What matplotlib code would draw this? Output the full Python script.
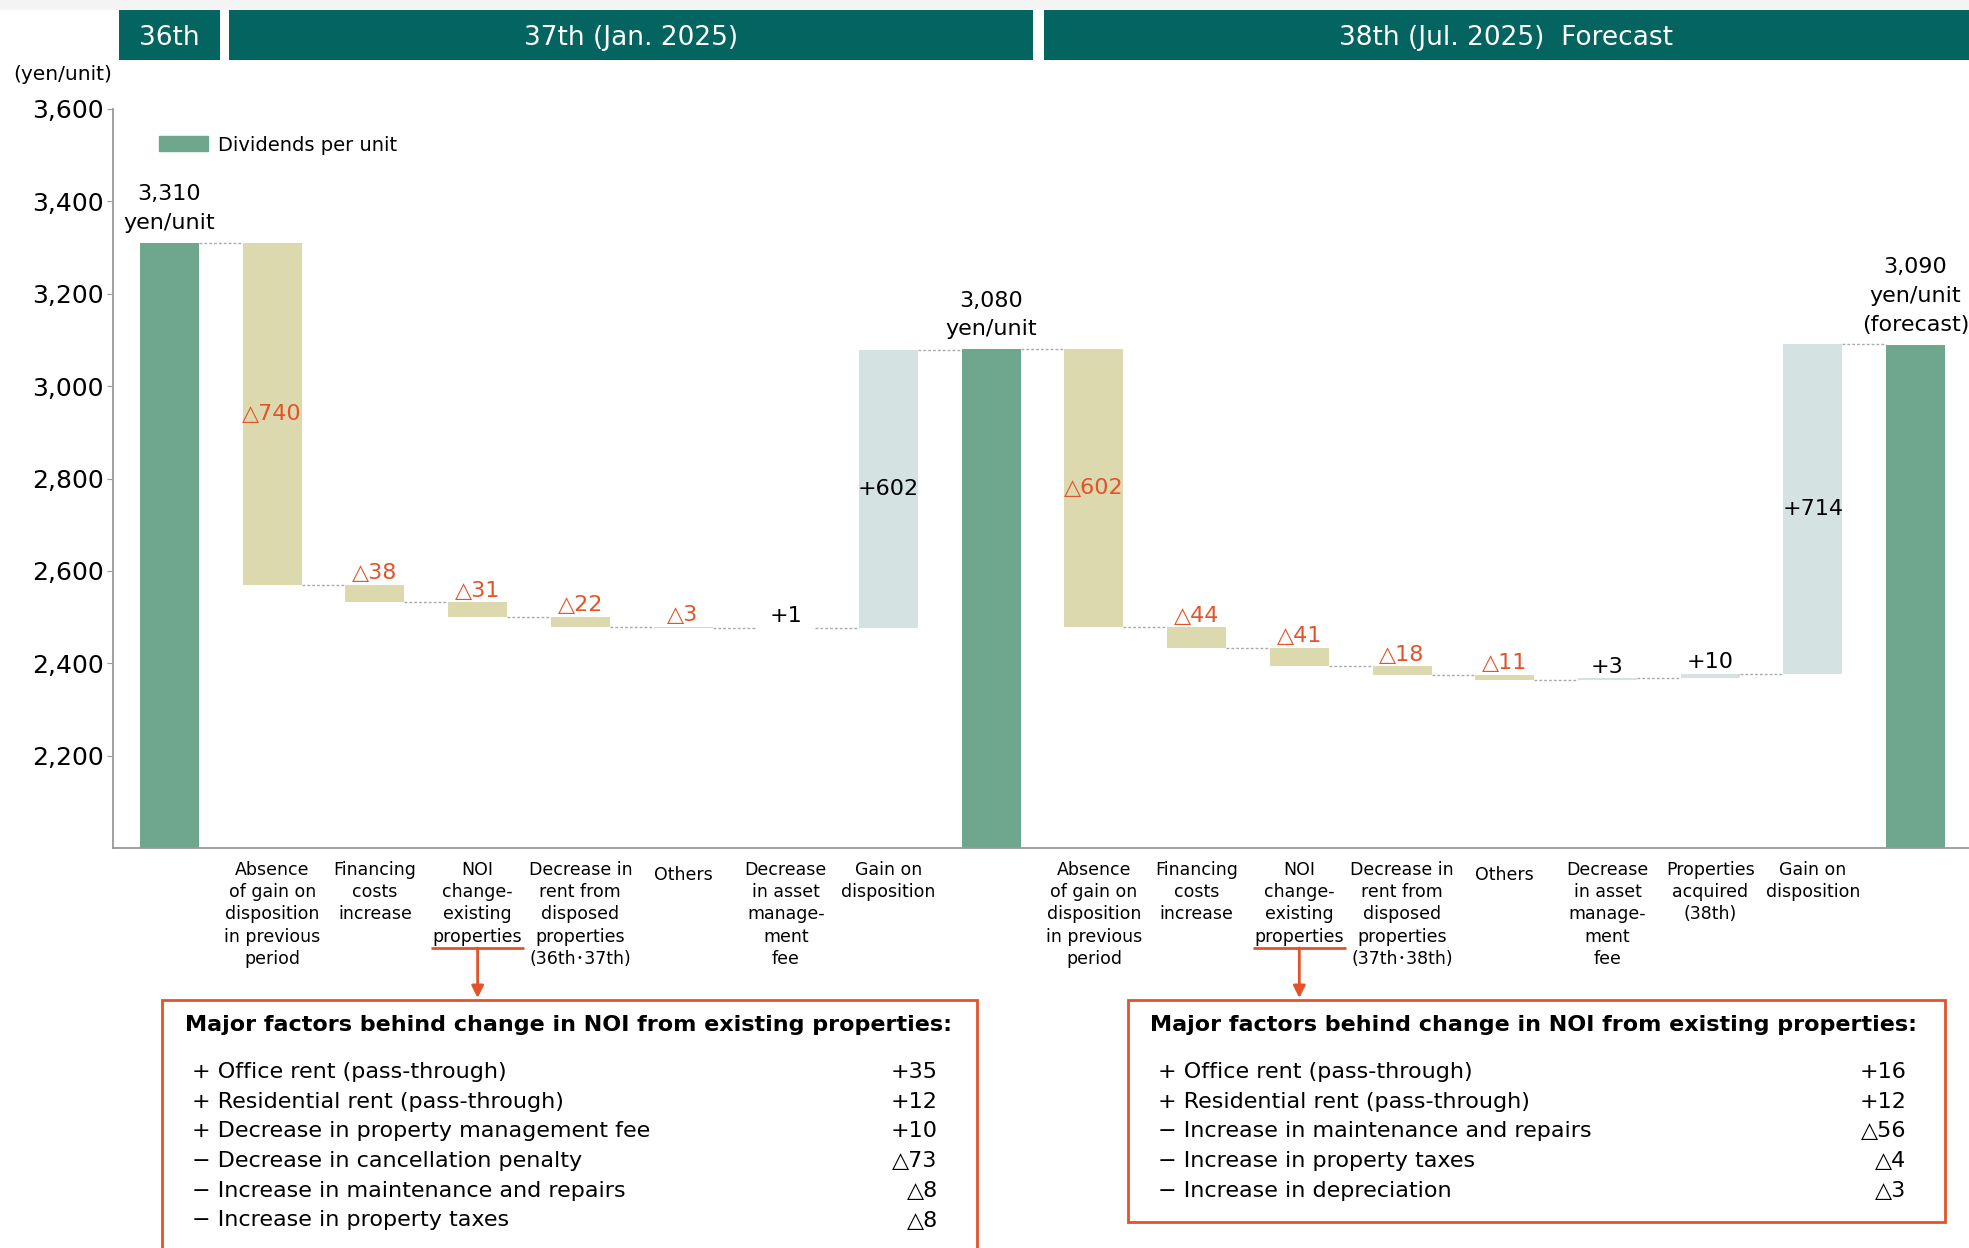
import matplotlib.pyplot as plt
from matplotlib.patches import Patch, Rectangle
from matplotlib.transforms import blended_transform_factory

plt.rcParams["font.family"] = ["DejaVu Sans", "Noto Sans CJK JP"]

# ---------------------------------------------------------------------------
# Data (yen per unit)
# ---------------------------------------------------------------------------

period_totals = [3310, 3080, 3090]  # 36th, 37th, 38th (forecast)
total_labels = ["3,310\nyen/unit", "3,080\nyen/unit", "3,090\nyen/unit\n(forecast)"]

changes_37 = [-740, -38, -31, -22, -3, 1, 602]
changes_38 = [-602, -44, -41, -18, -11, 3, 10, 714]

labels_37 = [
    "Absence\nof gain on\ndisposition\nin previous\nperiod",
    "Financing\ncosts\nincrease",
    "NOI\nchange-\nexisting\nproperties",
    "Decrease in\nrent from\ndisposed\nproperties\n(36th･37th)",
    "Others",
    "Decrease\nin asset\nmanage-\nment\nfee",
    "Gain on\ndisposition",
]
labels_38 = [
    "Absence\nof gain on\ndisposition\nin previous\nperiod",
    "Financing\ncosts\nincrease",
    "NOI\nchange-\nexisting\nproperties",
    "Decrease in\nrent from\ndisposed\nproperties\n(37th･38th)",
    "Others",
    "Decrease\nin asset\nmanage-\nment\nfee",
    "Properties\nacquired\n(38th)",
    "Gain on\ndisposition",
]

headers = ["36th", "37th (Jan. 2025)", "38th (Jul. 2025)  Forecast"]

noi_items_37 = [
    "+ Office rent (pass-through)",
    "+ Residential rent (pass-through)",
    "+ Decrease in property management fee",
    "\u2212 Decrease in cancellation penalty",
    "\u2212 Increase in maintenance and repairs",
    "\u2212 Increase in property taxes",
]
noi_values_37 = ["+35", "+12", "+10", "△73", "△8", "△8"]

noi_items_38 = [
    "+ Office rent (pass-through)",
    "+ Residential rent (pass-through)",
    "\u2212 Increase in maintenance and repairs",
    "\u2212 Increase in property taxes",
    "\u2212 Increase in depreciation",
]
noi_values_38 = ["+16", "+12", "△56", "△4", "△3"]

# ---------------------------------------------------------------------------
# Colours
# ---------------------------------------------------------------------------

GREEN = "#6FA68E"
KHAKI = "#DCD9AF"
PALE = "#D5E2E2"
ORANGE = "#E2532A"
TEAL = "#04645F"
GRID = "#AAAAAA"

# ---------------------------------------------------------------------------
# Waterfall geometry
# ---------------------------------------------------------------------------

bars = []  # (x, bottom, height, kind, end level, delta)
level = period_totals[0]
bars.append((0, 0, level, "total", level, None))
for k, changes in enumerate([changes_37, changes_38]):
    for d in changes:
        new = level + d
        bars.append((len(bars), min(level, new), abs(d), "down" if d < 0 else "up", new, d))
        level = new
    level = period_totals[k + 1]
    bars.append((len(bars), 0, level, "total", level, None))

step_labels = labels_37 + labels_38
BAR_W = 0.575
W, H = 1969, 1248

fig = plt.figure(figsize=(W / 100, H / 100), dpi=100)
ax = fig.add_axes([113 / W, 1 - 848 / H, 1 - 113 / W, (848 - 109) / H])
ax.set_xlim(-0.55, 17.52)
ax.set_ylim(2000, 3600)

colors = {"total": GREEN, "down": KHAKI, "up": PALE}
ax.bar([b[0] for b in bars], [b[2] for b in bars], bottom=[b[1] for b in bars],
       width=BAR_W, color=[colors[b[3]] for b in bars], linewidth=0, zorder=2)

# dotted connectors between neighbouring bars
for cur, nxt in zip(bars[:-1], bars[1:]):
    ax.plot([cur[0] + BAR_W / 2, nxt[0] - BAR_W / 2], [cur[4], cur[4]],
            color=GRID, lw=1.0, ls=(0, (2, 1.5)), zorder=1)

# change labels
for x, bottom, height, kind, end, d in bars:
    if d is None:
        continue
    txt = f"+{d}" if d > 0 else f"△{-d}"
    col = ORANGE if d < 0 else "black"
    if height > 300:
        ax.text(x, bottom + height / 2, txt, ha="center", va="center",
                fontsize=16, color=col, zorder=3)
    else:
        ax.annotate(txt, (x, bottom + height), xytext=(0, 1), textcoords="offset points",
                    ha="center", va="bottom", fontsize=16, color=col, zorder=3)

# period totals
totals = [b for b in bars if b[3] == "total"]
for (x, _, height, *_), lab in zip(totals, total_labels):
    ax.annotate(lab, (x, height), xytext=(0, 7), textcoords="offset points",
                ha="center", va="bottom", fontsize=16, linespacing=1.55)

# axes styling
for side in ["top", "right"]:
    ax.spines[side].set_visible(False)
for side in ["left", "bottom"]:
    ax.spines[side].set_color("#999999")
    ax.spines[side].set_linewidth(1.3)
ax.set_xticks([])
ax.set_yticks(range(2200, 3601, 200))
ax.set_yticklabels([f"{v:,}" for v in range(2200, 3601, 200)])
ax.tick_params(axis="y", labelsize=18, length=4, color="#999999", pad=2.5)

ax.legend(handles=[Patch(color=GREEN, label="Dividends per unit")],
          loc="upper left", bbox_to_anchor=(0.025, 0.964), frameon=False,
          fontsize=14, handlelength=2.5, handleheight=0.8, handletextpad=0.5,
          borderpad=0, borderaxespad=0)

fig.text(13 / W, 1 - 75 / H, "(yen/unit)", fontsize=14.5, va="center", ha="left")

# ---------------------------------------------------------------------------
# Period headers, category labels and NOI breakdown boxes
# ---------------------------------------------------------------------------

blend = blended_transform_factory(ax.transData, fig.transFigure)


def fy(px):
    return 1 - px / H


fig.add_artist(Rectangle((0, fy(10)), 1, 10 / H, transform=fig.transFigure,
                         color="#F4F4F4", lw=0, zorder=0))

header_spans = [(-0.49, 0.49), (0.575, 8.41), (8.51, 17.7)]
for (x0, x1), title in zip(header_spans, headers):
    ax.add_patch(Rectangle((x0, fy(60)), x1 - x0, 50 / H, transform=blend,
                           color=TEAL, lw=0, clip_on=False))
    xc = (x0 + min(x1, 17.52)) / 2
    ax.text(xc, fy(38), title, transform=blend, ha="center", va="center",
            fontsize=19, color="white", clip_on=False)

for x, bottom, height, kind, end, d in bars:
    if kind == "total":
        continue
    lab = step_labels[x - 1 - (x > 8)]
    drop = 5 if lab == "Others" else 0
    ax.text(x, fy(861 + drop), lab, transform=blend, ha="center", va="top",
            fontsize=12.5, linespacing=1.3, clip_on=False)

box_specs = [
    (3, -0.07, 7.86, 1262, noi_items_37, noi_values_37),
    (11, 9.33, 17.29, 1222, noi_items_38, noi_values_38),
]
for xc, x0, x1, bottom_px, items, values in box_specs:
    # underline under the NOI label and arrow down to the box
    ax.plot([xc - 0.45, xc + 0.45], [fy(948), fy(948)], transform=blend,
            color=ORANGE, lw=2, clip_on=False, solid_capstyle="butt")
    ax.annotate("", xy=(xc, fy(998)), xytext=(xc, fy(948)),
                xycoords=blend, textcoords=blend,
                arrowprops=dict(arrowstyle="-|>", color=ORANGE, lw=2,
                                mutation_scale=18, shrinkA=0, shrinkB=0))
    ax.add_patch(Rectangle((x0, fy(bottom_px)), x1 - x0, (bottom_px - 1000) / H,
                           transform=blend, fill=False, edgecolor=ORANGE, lw=2,
                           clip_on=False))
    ax.text(x0 + 0.22, fy(1025), "Major factors behind change in NOI from existing properties:",
            transform=blend, ha="left", va="center", fontsize=16, fontweight="bold",
            clip_on=False)
    for k, (item, val) in enumerate(zip(items, values)):
        y = fy(1072 + 29.7 * k)
        ax.text(x0 + 0.29, y, item, transform=blend, ha="left", va="center",
                fontsize=16, clip_on=False)
        ax.text(x1 - 0.38, y, val, transform=blend, ha="right", va="center",
                fontsize=16, clip_on=False)

fig.savefig("out.png", dpi=100)
